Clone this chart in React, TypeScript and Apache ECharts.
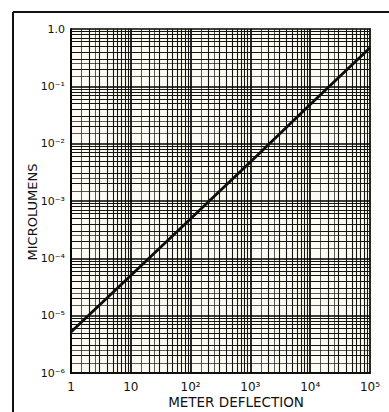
import React, { useEffect, useRef } from 'react';
import * as echarts from 'echarts';

// Main data line (meter deflection vs microlumens)
const deflection = [1, 10, 100, 1000, 10000, 100000];
const microlumens = [5.2e-6, 5.0e-5, 4.9e-4, 4.8e-3, 4.8e-2, 0.47];

// Axis decades and tick labels
const xTickValues = [1, 10, 100, 1000, 10000, 100000];
const xTickLabels = ['1', '10', '10²', '10³', '10⁴', '10⁵'];
const yTickValues = [1e-6, 1e-5, 1e-4, 1e-3, 1e-2, 1e-1, 1];
const yTickLabels = ['10⁻⁶', '10⁻⁵', '10⁻⁴', '10⁻³', '10⁻²', '10⁻¹', '1.0'];

// Log-paper rulings within each decade
const minorSteps = [1.5, 2, 2.5, 3, 4, 5, 6, 7, 8, 9];

const xTitle = 'METER DEFLECTION';
const yTitle = 'MICROLUMENS';

function findLabel(v: number, vals: number[], labels: string[]) {
  const i = vals.findIndex((t) => Math.abs(Math.log10(t) - Math.log10(v)) < 1e-6);
  return i >= 0 ? labels[i] : '';
}

export default function App() {
  const ref = useRef<HTMLDivElement>(null);

  useEffect(() => {
    if (!ref.current) return;
    const chart = echarts.init(ref.current, null, { renderer: 'svg' });

    const gridLines: any[] = [];
    const minorStyle = { color: '#14140f', width: 1, type: 'solid' };
    const majorStyle = { color: '#000', width: 1.7, type: 'solid' };
    xTickValues.slice(0, -1).forEach((d, i) => {
      minorSteps.forEach((s) => {
        gridLines.push({ xAxis: d * s, lineStyle: { ...minorStyle, width: s === 1.5 || s === 2.5 ? 0.7 : 1.1 } });
      });
      if (i > 0) gridLines.push({ xAxis: d, lineStyle: majorStyle });
    });
    yTickValues.slice(0, -1).forEach((d, i) => {
      minorSteps.forEach((s) => {
        gridLines.push({ yAxis: d * s, lineStyle: { ...minorStyle, width: s === 1.5 || s === 2.5 ? 0.7 : 1.1 } });
      });
      if (i > 0) gridLines.push({ yAxis: d, lineStyle: majorStyle });
    });

    const font = 'DejaVu Sans';

    chart.setOption({
      animation: false,
      backgroundColor: '#ffffff',
      grid: {
        left: 71,
        top: 29,
        right: 19,
        bottom: 39,
        show: true,
        backgroundColor: '#fcfcf4',
        borderColor: '#000',
        borderWidth: 1.7,
      },
      xAxis: {
        type: 'log',
        logBase: 10,
        min: 1,
        max: 100000,
        splitNumber: 5,
        axisLine: { show: true, lineStyle: { color: '#000', width: 1.7 } },
        axisTick: { show: false },
        splitLine: { show: false },
        axisLabel: {
          margin: 8,
          color: '#111',
          fontFamily: font,
          fontSize: 12,
          formatter: (v: number) => findLabel(v, xTickValues, xTickLabels),
        },
      },
      yAxis: {
        type: 'log',
        logBase: 10,
        min: 1e-6,
        max: 1,
        splitNumber: 6,
        axisLine: { show: true, lineStyle: { color: '#000', width: 1.7 } },
        axisTick: { show: false },
        splitLine: { show: false },
        axisLabel: {
          margin: 6,
          color: '#111',
          fontFamily: font,
          fontSize: 11,
          formatter: (v: number) => findLabel(v, yTickValues, yTickLabels),
        },
      },
      graphic: [
        { type: 'line', shape: { x1: 13, y1: 12, x2: 389, y2: 12 }, style: { stroke: '#111', lineWidth: 2 } },
        { type: 'line', shape: { x1: 13, y1: 12, x2: 13, y2: 412 }, style: { stroke: '#111', lineWidth: 2 } },
        {
          type: 'text',
          x: 32,
          y: 212,
          rotation: Math.PI / 2,
          style: { text: yTitle, fill: '#111', font: `13px "${font}"`, textAlign: 'center', textVerticalAlign: 'middle' },
        },
        {
          type: 'text',
          x: 236,
          y: 402,
          style: { text: xTitle, fill: '#111', font: `13.5px "${font}"`, textAlign: 'center', textVerticalAlign: 'middle' },
        },
      ],
      series: [
        {
          type: 'line',
          data: [],
          silent: true,
          z: 1,
          markLine: {
            silent: true,
            precision: 12,
            symbol: ['none', 'none'],
            label: { show: false },
            emphasis: { disabled: true },
            data: gridLines,
          },
        },
        {
          type: 'line',
          data: deflection.map((x, i) => [x, microlumens[i]]),
          showSymbol: false,
          z: 5,
          lineStyle: { color: '#0d0d0d', width: 2.8 },
        },
      ],
    });

    return () => chart.dispose();
  }, []);

  return <div ref={ref} style={{ position: 'fixed', left: 0, top: 0, width: 389, height: 412 }} />;
}
